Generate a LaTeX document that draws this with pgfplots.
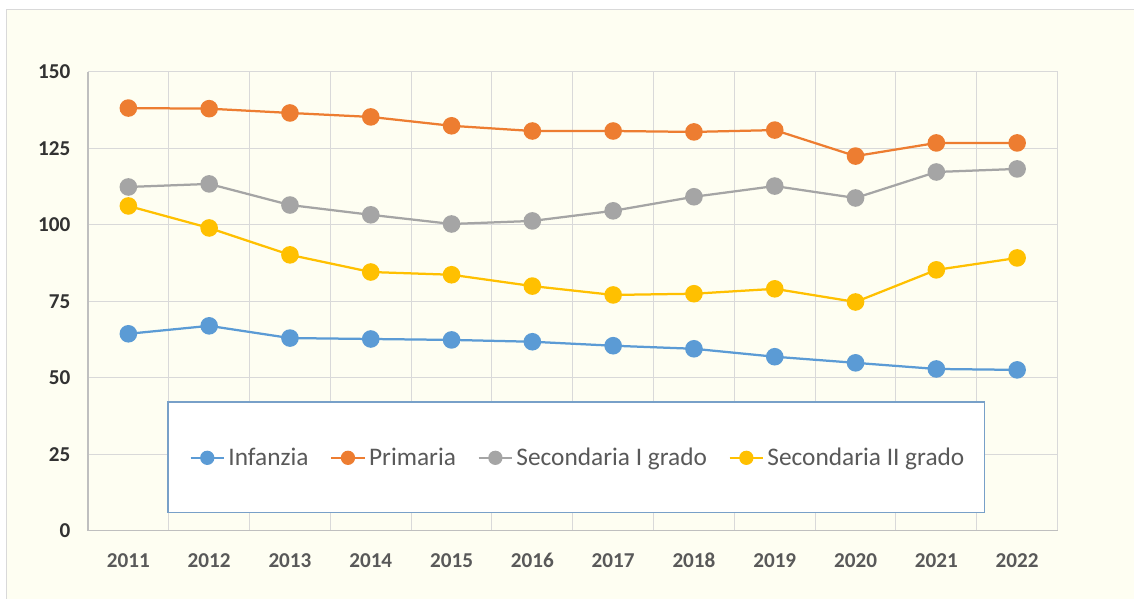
\documentclass[border=0pt]{standalone}
\usepackage{fontspec}
\setmainfont{Carlito}
\usepackage{pgfplots}
\pgfplotsset{compat=1.18}
\definecolor{cream}{RGB}{254,254,242}
\definecolor{gridc}{RGB}{217,217,217}
\definecolor{axisc}{RGB}{191,191,191}
\definecolor{txt}{RGB}{89,89,89}
\definecolor{ytxt}{RGB}{50,50,50}
\definecolor{cinf}{RGB}{91,155,213}
\definecolor{cpri}{RGB}{237,125,49}
\definecolor{csec}{RGB}{165,165,165}
\definecolor{csec2}{RGB}{255,192,0}
\definecolor{legb}{RGB}{120,160,200}
\pgfplotsset{
  serie/.style={line width=1.35pt,mark=*,mark size=4.6pt,mark options={solid,draw=#1,fill=#1},color=#1},
}
\begin{document}
\begin{tikzpicture}
% sfondo del grafico (1px = 0.6pt)
\fill[white] (0,0) rectangle (680.4pt,359.4pt);
\fill[cream] (4.2pt,0) rectangle (680.4pt,353.4pt);
\draw[gridc,line width=0.6pt] (4.2pt,0) -- (4.2pt,353.4pt) -- (680.4pt,353.4pt);
\begin{axis}[
  at={(52.8pt,40.8pt)},anchor=south west,
  scale only axis,width=582pt,height=275.4pt,
  xmin=-0.5,xmax=11.5,ymin=0,ymax=150,
  xtick={0,...,11},
  xticklabels={2011,2012,2013,2014,2015,2016,2017,2018,2019,2020,2021,2022},
  minor xtick={-0.5,0.5,...,11.5},
  ytick={0,25,...,150},
  xmajorgrids=false,xminorgrids=true,ymajorgrids=true,
  grid style={gridc,line width=0.6pt},
  minor grid style={gridc,line width=0.6pt},
  axis x line*=bottom,axis y line*=left,
  axis line style={axisc,line width=0.8pt,-},
  major tick length=0pt,minor tick length=0pt,
  /pgf/number format/assume math mode=true,
  ticklabel style={font=\fontsize{12.7}{14}\selectfont\bfseries},
  xticklabel style={txt,yshift=-10pt},
  yticklabel style={ytxt,xshift=-7pt},
  legend columns=4,
  legend style={at={(rel axis cs:0.506,0.159)},anchor=center,draw=none,fill=none,
    font=\fontsize{15.2}{17}\selectfont,text=txt},
  legend cell align=left,
  /tikz/every even column/.append style={column sep=11pt},
  legend image code/.code={%
    \draw[line width=1.35pt] (0pt,0pt) -- (20pt,0pt);
    \draw[#1,mark size=3.6pt,mark=*] plot coordinates {(10pt,0pt)};},
]
\addplot[serie=cinf] coordinates {(0,64.4) (1,67.0) (2,63.0) (3,62.7) (4,62.4) (5,61.8) (6,60.5) (7,59.5) (8,56.9) (9,54.9) (10,52.9) (11,52.6)};
\addplot[serie=cpri] coordinates {(0,138.2) (1,138.0) (2,136.6) (3,135.3) (4,132.4) (5,130.7) (6,130.7) (7,130.4) (8,131.0) (9,122.5) (10,126.8) (11,126.8)};
\addplot[serie=csec] coordinates {(0,112.4) (1,113.4) (2,106.5) (3,103.3) (4,100.3) (5,101.3) (6,104.6) (7,109.2) (8,112.7) (9,108.8) (10,117.3) (11,118.3)};
\addplot[serie=csec2] coordinates {(0,106.2) (1,99.0) (2,90.2) (3,84.6) (4,83.7) (5,80.0) (6,77.1) (7,77.5) (8,79.1) (9,74.8) (10,85.3) (11,89.2)};
\draw[fill=white,draw=legb,line width=0.8pt] (rel axis cs:0.0825,0.0392) rectangle (rel axis cs:0.9247,0.281);
\legend{Infanzia,Primaria,Secondaria I grado,Secondaria II grado}
\end{axis}
\end{tikzpicture}
\end{document}
